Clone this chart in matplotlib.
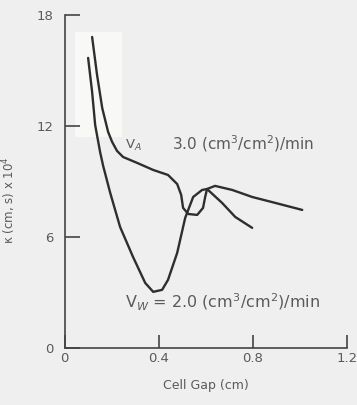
import matplotlib
matplotlib.use("Agg")
import matplotlib.pyplot as plt
from matplotlib.patches import Rectangle

# Curve for V_A = 3.0 (cm3/cm2)/min
va_x = [0.117, 0.138, 0.160, 0.185, 0.202, 0.223, 0.249, 0.309, 0.377, 0.440,
        0.479, 0.496, 0.504, 0.526, 0.564, 0.589, 0.598, 0.606, 0.640, 0.713,
        0.798, 0.896, 1.011]
va_y = [16.81, 14.76, 12.97, 11.68, 11.14, 10.65, 10.32, 10.00, 9.62, 9.35,
        8.86, 8.27, 7.57, 7.24, 7.19, 7.57, 8.16, 8.59, 8.76, 8.54,
        8.16, 7.84, 7.46]

# Curve for V_W = 2.0 (cm3/cm2)/min
vw_x = [0.100, 0.117, 0.130, 0.151, 0.164, 0.194, 0.236, 0.291, 0.343, 0.377,
        0.415, 0.440, 0.479, 0.513, 0.547, 0.585, 0.606, 0.670, 0.726, 0.798]
vw_y = [15.68, 13.84, 12.05, 10.59, 9.84, 8.38, 6.54, 4.92, 3.51, 3.03,
        3.14, 3.68, 5.14, 7.03, 8.16, 8.54, 8.59, 7.84, 7.08, 6.49]

xticks = [0, 0.4, 0.8, 1.2]
xticklabels = ["0", "0.4", "0.8", "1.2"]
yticks = [0, 6, 12, 18]
yticklabels = ["0", "6", "12", "18"]

bg = "#efefef"
txt = "#5a5a5a"
linec = "#2e2e2e"

fig = plt.figure(figsize=(3.57, 4.05), dpi=100, facecolor=bg)
ax = fig.add_axes([0.181, 0.141, 0.790, 0.822], facecolor=bg)

# lighter scanned patch in upper-left
ax.add_patch(Rectangle((0.045, 11.4), 0.2, 5.7, facecolor="#f8f8f6",
                       edgecolor="none", zorder=0))

ax.plot(va_x, va_y, color=linec, lw=1.7, solid_joinstyle="round",
        solid_capstyle="round", zorder=3)
ax.plot(vw_x, vw_y, color=linec, lw=1.7, solid_joinstyle="round",
        solid_capstyle="round", zorder=3)

ax.set_xlim(0, 1.2)
ax.set_ylim(0, 18)
ax.set_xticks(xticks)
ax.set_xticklabels(xticklabels)
ax.set_yticks(yticks)
ax.set_yticklabels(yticklabels)

for s in ["top", "right"]:
    ax.spines[s].set_visible(False)
for s in ["left", "bottom"]:
    ax.spines[s].set_color("#444444")
    ax.spines[s].set_linewidth(1.2)

ax.tick_params(axis="y", direction="in", length=11, width=1.2, color="#444444",
               labelsize=9.5, labelcolor=txt, pad=8)
ax.tick_params(axis="x", direction="in", length=9.5, width=1.2, color="#444444",
               labelsize=9.5, labelcolor=txt, pad=3)

ax.set_xlabel("Cell Gap (cm)", fontsize=9, color=txt, labelpad=10)
ax.set_ylabel("κ (cm, s) x 10$^4$", fontsize=8.5, color=txt)
ax.yaxis.set_label_coords(-0.165, 0.445)

ax.text(0.257, 10.95, "V$_A$", fontsize=9.5, color=txt, ha="left", va="center")
ax.text(0.457, 11.05, "3.0 (cm$^3$/cm$^2$)/min", fontsize=11,
        color=txt, ha="left", va="center")
ax.text(0.257, 2.45, "V$_W$ = 2.0 (cm$^3$/cm$^2$)/min", fontsize=11.5,
        color=txt, ha="left", va="center")

fig.savefig("out.png", dpi=100, facecolor=bg)
